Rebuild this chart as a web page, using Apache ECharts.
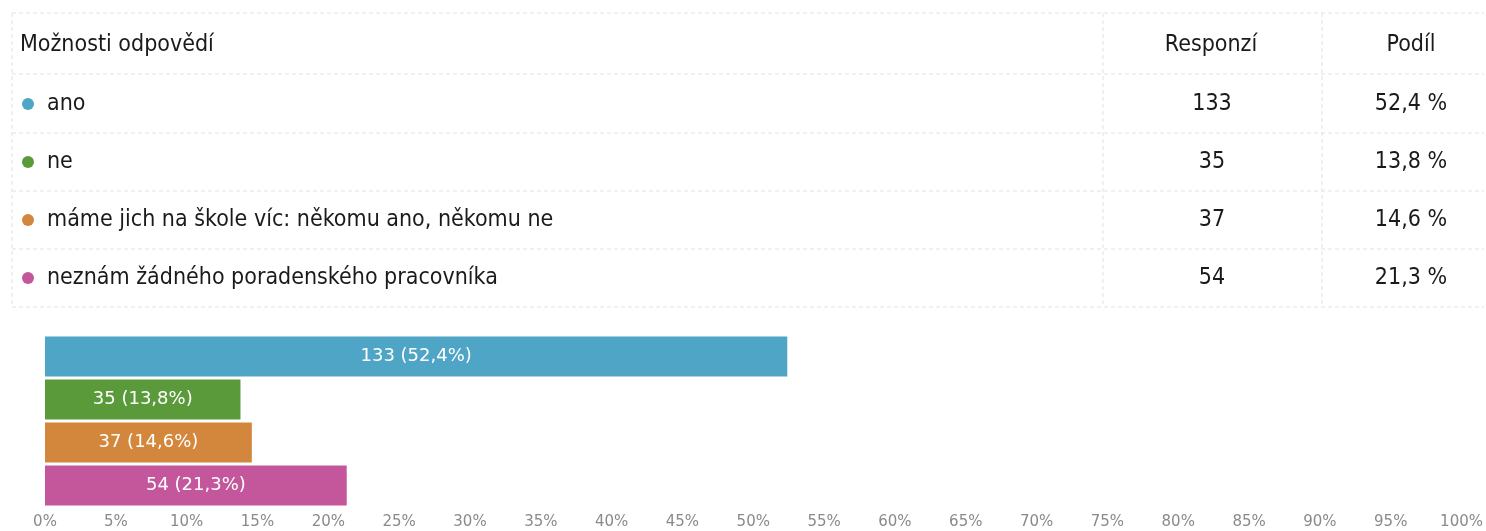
<!DOCTYPE html>
<html>
<head>
<meta charset="utf-8">
<script src="https://cdn.jsdelivr.net/npm/echarts@6/dist/echarts.min.js"></script>
<style>
html,body{margin:0;padding:0;background:#fff;}
#c{width:1486px;height:531px;}
</style>
</head>
<body>
<div id="c"></div>
<script>
const categories = ['ano', 'ne', 'máme jich na škole víc: někomu ano, někomu ne', 'neznám žádného poradenského pracovníka'];
const responses = [133, 35, 37, 54];
const shares = [52.4, 13.8, 14.6, 21.3];
const colors = ['#4ea5c5', '#5b9a3b', '#d2873c', '#c4569c'];
const headers = ['Možnosti odpovědí', 'Responzí', 'Podíl'];
const axisTicks = [0,5,10,15,20,25,30,35,40,45,50,55,60,65,70,75,80,85,90,95,100];

const fmt = v => v.toFixed(1).replace('.', ',');
const tableFont = "'Liberation Sans Narrow', 'DejaVu Sans Condensed', sans-serif";
const textColor = '#1a1a1a';
const lineColor = '#dde2e5';

const rowY = [45, 104, 162, 220, 278];
const lineYs = [13, 74, 133, 191, 249, 307];
const graphics = [];
lineYs.forEach(y => graphics.push({type:'line', shape:{x1:12,y1:y,x2:1484,y2:y}, style:{stroke:lineColor, lineWidth:1, lineDash:[4,3]}, silent:true}));
[12, 1103, 1322].forEach(x => graphics.push({type:'line', shape:{x1:x,y1:13,x2:x,y2:307}, style:{stroke:lineColor, lineWidth:1, lineDash:[4,3]}, silent:true}));

const fs = 23;
graphics.push({type:'text', x:20, y:rowY[0], style:{text:headers[0], font:`${fs}px ${tableFont}`, fill:textColor, textAlign:'left', textVerticalAlign:'middle'}});
graphics.push({type:'text', x:1211, y:rowY[0], style:{text:headers[1], font:`${fs}px ${tableFont}`, fill:textColor, textAlign:'center', textVerticalAlign:'middle'}});
graphics.push({type:'text', x:1411, y:rowY[0], style:{text:headers[2], font:`${fs}px ${tableFont}`, fill:textColor, textAlign:'center', textVerticalAlign:'middle'}});
categories.forEach((c, i) => {
  const y = rowY[i+1];
  graphics.push({type:'circle', shape:{cx:28, cy:y, r:6}, style:{fill:colors[i]}});
  graphics.push({type:'text', x:47, y:y, style:{text:c, font:`${fs}px ${tableFont}`, fill:textColor, textAlign:'left', textVerticalAlign:'middle'}});
  graphics.push({type:'text', x:1212, y:y, style:{text:String(responses[i]), font:`${fs}px ${tableFont}`, fill:textColor, textAlign:'center', textVerticalAlign:'middle'}});
  graphics.push({type:'text', x:1411, y:y, style:{text:fmt(shares[i]) + ' %', font:`${fs}px ${tableFont}`, fill:textColor, textAlign:'center', textVerticalAlign:'middle'}});
});

const chart = echarts.init(document.getElementById('c'), null, {renderer:'canvas'});
chart.setOption({
  animation:false,
  backgroundColor:'#fff',
  grid:{left:45, right:24, top:335, bottom:24, containLabel:false},
  xAxis:{
    type:'value', min:axisTicks[0], max:axisTicks[axisTicks.length-1], interval:axisTicks[1]-axisTicks[0],
    axisLine:{show:false}, axisTick:{show:false}, splitLine:{show:false},
    axisLabel:{formatter:'{value}%', color:'#8a8a8a', fontSize:15, fontFamily:'DejaVu Sans', margin:8}
  },
  yAxis:{type:'category', data:categories, inverse:true, show:false},
  series:[{
    type:'bar',
    barCategoryGap:'7%',
    data:shares.map((v,i)=>({value:v, itemStyle:{color:colors[i]}})),
    label:{show:true, position:'inside', color:'#fff', fontSize:18, fontFamily:'DejaVu Sans',
      formatter:p => `${responses[p.dataIndex]} (${fmt(shares[p.dataIndex])}%)`}
  }],
  graphic:graphics
});
</script>
</body>
</html>
